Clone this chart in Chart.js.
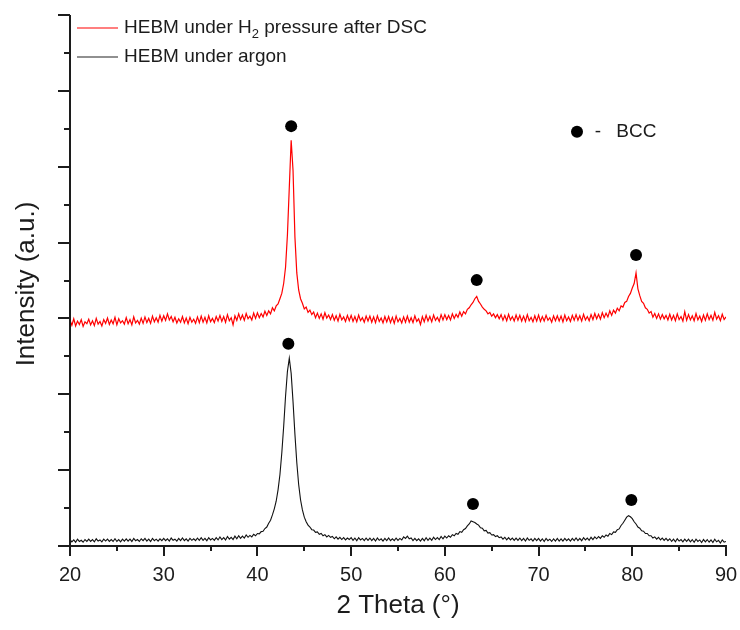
<!DOCTYPE html>
<html>
<head>
<meta charset="utf-8">
<title>XRD patterns</title>
<script src="https://cdn.jsdelivr.net/npm/chart.js@4.4.1/dist/chart.umd.min.js"></script>
<style>
  html, body { margin: 0; padding: 0; background: #fff; }
  #wrap { width: 740px; height: 630px; }
</style>
</head>
<body>
<div id="wrap"><canvas id="xrdChart" width="740" height="630"></canvas></div>
<script>
// 2 theta (deg), sampled every 0.2 deg
const angles = [
  20.0, 20.2, 20.4, 20.6, 20.8, 21.0, 21.2, 21.4, 21.6, 21.8,
  22.0, 22.2, 22.4, 22.6, 22.8, 23.0, 23.2, 23.4, 23.6, 23.8,
  24.0, 24.2, 24.4, 24.6, 24.8, 25.0, 25.2, 25.4, 25.6, 25.8,
  26.0, 26.2, 26.4, 26.6, 26.8, 27.0, 27.2, 27.4, 27.6, 27.8,
  28.0, 28.2, 28.4, 28.6, 28.8, 29.0, 29.2, 29.4, 29.6, 29.8,
  30.0, 30.2, 30.4, 30.6, 30.8, 31.0, 31.2, 31.4, 31.6, 31.8,
  32.0, 32.2, 32.4, 32.6, 32.8, 33.0, 33.2, 33.4, 33.6, 33.8,
  34.0, 34.2, 34.4, 34.6, 34.8, 35.0, 35.2, 35.4, 35.6, 35.8,
  36.0, 36.2, 36.4, 36.6, 36.8, 37.0, 37.2, 37.4, 37.6, 37.8,
  38.0, 38.2, 38.4, 38.6, 38.8, 39.0, 39.2, 39.4, 39.6, 39.8,
  40.0, 40.2, 40.4, 40.6, 40.8, 41.0, 41.2, 41.4, 41.6, 41.8,
  42.0, 42.2, 42.4, 42.6, 42.8, 43.0, 43.2, 43.4, 43.6, 43.8,
  44.0, 44.2, 44.4, 44.6, 44.8, 45.0, 45.2, 45.4, 45.6, 45.8,
  46.0, 46.2, 46.4, 46.6, 46.8, 47.0, 47.2, 47.4, 47.6, 47.8,
  48.0, 48.2, 48.4, 48.6, 48.8, 49.0, 49.2, 49.4, 49.6, 49.8,
  50.0, 50.2, 50.4, 50.6, 50.8, 51.0, 51.2, 51.4, 51.6, 51.8,
  52.0, 52.2, 52.4, 52.6, 52.8, 53.0, 53.2, 53.4, 53.6, 53.8,
  54.0, 54.2, 54.4, 54.6, 54.8, 55.0, 55.2, 55.4, 55.6, 55.8,
  56.0, 56.2, 56.4, 56.6, 56.8, 57.0, 57.2, 57.4, 57.6, 57.8,
  58.0, 58.2, 58.4, 58.6, 58.8, 59.0, 59.2, 59.4, 59.6, 59.8,
  60.0, 60.2, 60.4, 60.6, 60.8, 61.0, 61.2, 61.4, 61.6, 61.8,
  62.0, 62.2, 62.4, 62.6, 62.8, 63.0, 63.2, 63.4, 63.6, 63.8,
  64.0, 64.2, 64.4, 64.6, 64.8, 65.0, 65.2, 65.4, 65.6, 65.8,
  66.0, 66.2, 66.4, 66.6, 66.8, 67.0, 67.2, 67.4, 67.6, 67.8,
  68.0, 68.2, 68.4, 68.6, 68.8, 69.0, 69.2, 69.4, 69.6, 69.8,
  70.0, 70.2, 70.4, 70.6, 70.8, 71.0, 71.2, 71.4, 71.6, 71.8,
  72.0, 72.2, 72.4, 72.6, 72.8, 73.0, 73.2, 73.4, 73.6, 73.8,
  74.0, 74.2, 74.4, 74.6, 74.8, 75.0, 75.2, 75.4, 75.6, 75.8,
  76.0, 76.2, 76.4, 76.6, 76.8, 77.0, 77.2, 77.4, 77.6, 77.8,
  78.0, 78.2, 78.4, 78.6, 78.8, 79.0, 79.2, 79.4, 79.6, 79.8,
  80.0, 80.2, 80.4, 80.6, 80.8, 81.0, 81.2, 81.4, 81.6, 81.8,
  82.0, 82.2, 82.4, 82.6, 82.8, 83.0, 83.2, 83.4, 83.6, 83.8,
  84.0, 84.2, 84.4, 84.6, 84.8, 85.0, 85.2, 85.4, 85.6, 85.8,
  86.0, 86.2, 86.4, 86.6, 86.8, 87.0, 87.2, 87.4, 87.6, 87.8,
  88.0, 88.2, 88.4, 88.6, 88.8, 89.0, 89.2, 89.4, 89.6, 89.8,
  90.0
];

// HEBM under H2 pressure after DSC (offset trace, arbitrary units)
const h2Intensity = [
  5.95, 5.82, 5.99, 5.80, 5.93, 5.84, 5.97, 5.79, 5.91, 5.86,
  5.98, 5.83, 5.94, 5.81, 6.00, 5.85, 5.92, 5.80, 5.97, 5.87,
  6.01, 5.84, 5.96, 5.86, 6.03, 5.83, 5.99, 5.88, 5.94, 5.85,
  6.02, 5.86, 5.97, 5.83, 6.04, 5.88, 5.95, 5.85, 6.01, 5.87,
  6.04, 5.89, 6.00, 5.87, 6.06, 5.91, 6.02, 5.90, 6.08, 5.93,
  6.07, 5.95, 6.12, 5.96, 6.05, 5.91, 6.03, 5.88, 5.99, 5.90,
  6.05, 5.88, 6.01, 5.86, 6.03, 5.90, 5.98, 5.87, 6.04, 5.89,
  6.06, 5.90, 6.03, 5.88, 6.07, 5.91, 6.00, 5.89, 6.05, 5.93,
  6.08, 5.92, 6.05, 5.90, 6.10, 5.94, 6.02, 5.83, 6.07, 5.95,
  6.12, 5.97, 6.09, 5.95, 6.13, 5.99, 6.06, 5.96, 6.14, 6.00,
  6.15, 6.02, 6.13, 6.04, 6.19, 6.08, 6.20, 6.12, 6.28, 6.20,
  6.33, 6.38, 6.52, 6.66, 6.92, 7.35, 8.20, 9.45, 10.70, 9.90,
  8.15, 7.20, 6.75, 6.52, 6.40, 6.25, 6.30, 6.16, 6.22, 6.10,
  6.17, 6.02, 6.14, 6.00, 6.12, 5.98, 6.15, 6.01, 6.09, 5.97,
  6.10, 5.95, 6.07, 5.93, 6.11, 5.96, 6.04, 5.92, 6.08, 5.94,
  6.08, 5.92, 6.05, 5.91, 6.09, 5.94, 6.02, 5.90, 6.06, 5.93,
  6.06, 5.90, 6.04, 5.89, 6.07, 5.92, 6.01, 5.88, 6.05, 5.91,
  6.05, 5.89, 6.03, 5.87, 6.06, 5.91, 6.00, 5.88, 6.04, 5.90,
  6.06, 5.90, 6.02, 5.89, 6.07, 5.92, 5.99, 5.84, 6.05, 5.91,
  6.08, 5.93, 6.05, 5.91, 6.09, 5.95, 6.03, 5.92, 6.10, 5.96,
  6.10, 5.97, 6.08, 5.96, 6.12, 6.00, 6.11, 6.03, 6.17, 6.06,
  6.18, 6.12, 6.24, 6.28, 6.36, 6.42, 6.52, 6.58, 6.45, 6.38,
  6.30, 6.24, 6.20, 6.12, 6.16, 6.06, 6.12, 6.02, 6.10, 5.99,
  6.10, 5.95, 6.08, 5.94, 6.11, 5.96, 6.05, 5.93, 6.09, 5.95,
  6.08, 5.93, 6.06, 5.92, 6.10, 5.94, 6.03, 5.91, 6.07, 5.93,
  6.09, 5.92, 6.05, 5.93, 6.08, 5.95, 6.02, 5.90, 6.07, 5.94,
  6.07, 5.93, 6.06, 5.91, 6.09, 5.94, 6.04, 5.92, 6.08, 5.95,
  6.10, 5.95, 6.07, 5.93, 6.11, 5.96, 6.05, 5.94, 6.10, 5.97,
  6.13, 5.99, 6.11, 5.98, 6.15, 6.02, 6.14, 6.04, 6.20, 6.08,
  6.22, 6.14, 6.27, 6.20, 6.33, 6.30, 6.42, 6.45, 6.58, 6.66,
  6.80, 6.92, 7.20, 6.78, 6.60, 6.45, 6.40, 6.28, 6.24, 6.14,
  6.18, 6.03, 6.13, 6.00, 6.12, 5.98, 6.10, 5.99, 6.08, 5.96,
  6.11, 5.96, 6.08, 5.94, 6.12, 5.97, 6.05, 5.93, 6.18, 5.95,
  6.10, 5.96, 6.07, 5.94, 6.13, 5.96, 6.06, 5.92, 6.09, 5.95,
  6.12, 5.97, 6.08, 5.95, 6.16, 5.98, 6.07, 5.94, 6.11, 5.97,
  6.04
];

// HEBM under argon
const argonIntensity = [
  0.17, 0.11, 0.16, 0.10, 0.18, 0.12, 0.15, 0.10, 0.17, 0.12,
  0.18, 0.12, 0.17, 0.11, 0.19, 0.13, 0.16, 0.11, 0.18, 0.13,
  0.18, 0.12, 0.17, 0.12, 0.19, 0.12, 0.17, 0.11, 0.18, 0.13,
  0.19, 0.13, 0.18, 0.12, 0.20, 0.14, 0.17, 0.12, 0.19, 0.14,
  0.20, 0.13, 0.18, 0.12, 0.20, 0.14, 0.18, 0.13, 0.19, 0.14,
  0.20, 0.14, 0.19, 0.13, 0.21, 0.15, 0.18, 0.13, 0.20, 0.14,
  0.21, 0.14, 0.19, 0.13, 0.20, 0.15, 0.19, 0.14, 0.21, 0.15,
  0.22, 0.15, 0.20, 0.14, 0.22, 0.16, 0.20, 0.15, 0.22, 0.16,
  0.24, 0.17, 0.22, 0.16, 0.25, 0.18, 0.23, 0.17, 0.26, 0.19,
  0.27, 0.20, 0.26, 0.21, 0.29, 0.23, 0.28, 0.24, 0.31, 0.27,
  0.33, 0.32, 0.38, 0.39, 0.46, 0.50, 0.60, 0.68, 0.82, 0.98,
  1.18, 1.48, 1.88, 2.45, 3.15, 3.95, 4.60, 4.95, 4.55, 3.80,
  2.95, 2.20, 1.62, 1.22, 0.95, 0.76, 0.64, 0.55, 0.50, 0.43,
  0.42, 0.36, 0.37, 0.31, 0.33, 0.27, 0.30, 0.24, 0.28, 0.23,
  0.25, 0.19, 0.24, 0.18, 0.23, 0.17, 0.22, 0.16, 0.21, 0.17,
  0.22, 0.15, 0.21, 0.14, 0.22, 0.16, 0.20, 0.14, 0.21, 0.15,
  0.21, 0.14, 0.20, 0.13, 0.21, 0.15, 0.19, 0.13, 0.20, 0.14,
  0.21, 0.14, 0.19, 0.14, 0.21, 0.15, 0.20, 0.16, 0.24, 0.20,
  0.26, 0.19, 0.21, 0.14, 0.20, 0.14, 0.19, 0.13, 0.20, 0.14,
  0.22, 0.15, 0.21, 0.15, 0.23, 0.17, 0.22, 0.17, 0.25, 0.19,
  0.26, 0.21, 0.27, 0.23, 0.30, 0.27, 0.33, 0.31, 0.38, 0.36,
  0.43, 0.46, 0.53, 0.58, 0.66, 0.64, 0.62, 0.58, 0.55, 0.48,
  0.47, 0.40, 0.41, 0.34, 0.35, 0.29, 0.30, 0.25, 0.27, 0.22,
  0.24, 0.18, 0.23, 0.16, 0.22, 0.16, 0.21, 0.15, 0.21, 0.15,
  0.21, 0.14, 0.20, 0.13, 0.21, 0.15, 0.19, 0.13, 0.20, 0.14,
  0.20, 0.13, 0.19, 0.12, 0.20, 0.14, 0.18, 0.12, 0.19, 0.13,
  0.20, 0.13, 0.19, 0.13, 0.20, 0.14, 0.19, 0.13, 0.20, 0.14,
  0.21, 0.14, 0.20, 0.14, 0.22, 0.16, 0.21, 0.15, 0.23, 0.17,
  0.24, 0.19, 0.25, 0.20, 0.27, 0.23, 0.29, 0.26, 0.33, 0.30,
  0.37, 0.36, 0.43, 0.45, 0.54, 0.60, 0.68, 0.76, 0.80, 0.77,
  0.72, 0.64, 0.58, 0.50, 0.47, 0.40, 0.39, 0.33, 0.33, 0.27,
  0.27, 0.21, 0.24, 0.18, 0.23, 0.16, 0.21, 0.15, 0.20, 0.14,
  0.19, 0.12, 0.18, 0.11, 0.19, 0.13, 0.17, 0.11, 0.18, 0.12,
  0.18, 0.11, 0.17, 0.10, 0.18, 0.12, 0.16, 0.09, 0.17, 0.11,
  0.17, 0.10, 0.16, 0.09, 0.18, 0.11, 0.15, 0.08, 0.16, 0.10,
  0.12
];

// BCC reflection markers (2 theta, height), last one is the key symbol
const bccAngles = [43.6, 63.4, 80.4, 43.3, 63.0, 79.9, 74.1];
const bccHeights = [11.07, 7.01, 7.67, 5.33, 1.11, 1.21, 10.92];

const xMajorTicks = [20, 30, 40, 50, 60, 70, 80, 90];
const xMinorTicks = [25, 35, 45, 55, 65, 75, 85];
const yTicks = [0, 1, 2, 3, 4, 5, 6, 7, 8, 9, 10, 11, 12, 13, 14];

const seriesNames = ["HEBM under H2 pressure after DSC", "HEBM under argon"];

const h2Points = angles.map((a, i) => ({ x: a, y: h2Intensity[i] }));
const argonPoints = angles.map((a, i) => ({ x: a, y: argonIntensity[i] }));
const bccPoints = bccAngles.map((a, i) => ({ x: a, y: bccHeights[i] }));

const FONT = "'Liberation Sans', Arial, sans-serif";
const INK = "#1c1c1c";

// axis lines, Origin-style tick marks, titles, legend and the BCC key
const decorations = {
  id: "decorations",
  afterDraw(chart) {
    const { ctx, chartArea: area } = chart;
    const xs = chart.scales.x;
    const ys = chart.scales.y;
    ctx.save();

    ctx.strokeStyle = INK;
    ctx.lineWidth = 2;
    ctx.beginPath();
    ctx.moveTo(area.left, area.top);
    ctx.lineTo(area.left, area.bottom);
    ctx.moveTo(area.left - 1, area.bottom);
    ctx.lineTo(area.right + 1, area.bottom);

    xMajorTicks.forEach((v) => {
      const px = Math.round(xs.getPixelForValue(v));
      ctx.moveTo(px, area.bottom);
      ctx.lineTo(px, area.bottom + 10);
    });
    xMinorTicks.forEach((v) => {
      const px = Math.round(xs.getPixelForValue(v));
      ctx.moveTo(px, area.bottom);
      ctx.lineTo(px, area.bottom + 5);
    });
    yTicks.forEach((v) => {
      const py = Math.round(ys.getPixelForValue(v));
      const len = v % 2 === 0 ? 12 : 6;
      ctx.moveTo(area.left, py);
      ctx.lineTo(area.left - len, py);
    });
    ctx.stroke();

    // axis titles
    ctx.fillStyle = INK;
    ctx.textAlign = "center";
    ctx.textBaseline = "middle";
    ctx.font = "26px " + FONT;
    ctx.fillText("2 Theta (\u00B0)", 398, 606);
    ctx.save();
    ctx.translate(27, 284);
    ctx.rotate(-Math.PI / 2);
    ctx.fillText("Intensity (a.u.)", 0, 0);
    ctx.restore();

    // legend
    ctx.textAlign = "left";
    ctx.lineWidth = 1.2;
    ctx.strokeStyle = "#ff0000";
    ctx.beginPath();
    ctx.moveTo(77, 28);
    ctx.lineTo(118, 28);
    ctx.stroke();
    ctx.strokeStyle = "#222";
    ctx.beginPath();
    ctx.moveTo(77, 57);
    ctx.lineTo(118, 57);
    ctx.stroke();

    ctx.font = "19px " + FONT;
    let tx = 124;
    ctx.fillText("HEBM under H", tx, 28);
    tx += ctx.measureText("HEBM under H").width;
    ctx.font = "13px " + FONT;
    ctx.fillText("2", tx, 34);
    tx += ctx.measureText("2").width;
    ctx.font = "19px " + FONT;
    ctx.fillText(" pressure after DSC", tx, 28);
    ctx.fillText(seriesNames[1], 124, 57);

    // BCC key text next to the key symbol
    const keyY = ys.getPixelForValue(bccHeights[6]);
    ctx.fillText("-", xs.getPixelForValue(76.0), keyY);
    ctx.fillText("BCC", xs.getPixelForValue(78.3), keyY);

    ctx.restore();
  },
};

const ctx = document.getElementById("xrdChart").getContext("2d");
const chart = new Chart(ctx, {
  type: "scatter",
  data: {
    datasets: [
      {
        label: seriesNames[0],
        data: h2Points,
        showLine: true,
        borderColor: "#ff0000",
        borderWidth: 1.2,
        pointRadius: 0,
        tension: 0,
      },
      {
        label: seriesNames[1],
        data: argonPoints,
        showLine: true,
        borderColor: "#111",
        borderWidth: 1.1,
        pointRadius: 0,
        tension: 0,
      },
      {
        label: "BCC",
        data: bccPoints,
        showLine: false,
        pointRadius: 6,
        pointBackgroundColor: "#000",
        pointBorderWidth: 0,
      },
    ],
  },
  options: {
    responsive: false,
    animation: false,
    devicePixelRatio: 1,
    layout: {
      padding: { left: 0, right: 14, top: 15, bottom: 0 },
    },
    plugins: {
      legend: { display: false },
      tooltip: { enabled: false },
    },
    scales: {
      x: {
        type: "linear",
        min: 20,
        max: 90,
        border: { display: false },
        grid: { display: false, drawTicks: false },
        ticks: {
          stepSize: 10,
          padding: 17,
          color: INK,
          font: { family: FONT, size: 20 },
        },
        afterFit: (scale) => {
          scale.height = 84;
          scale.paddingLeft = 0;
          scale.paddingRight = 0;
        },
      },
      y: {
        min: 0,
        max: 14,
        border: { display: false },
        grid: { display: false, drawTicks: false },
        ticks: { display: false, stepSize: 1 },
        afterFit: (scale) => {
          scale.width = 70;
        },
      },
    },
  },
  plugins: [decorations],
});
</script>
</body>
</html>
